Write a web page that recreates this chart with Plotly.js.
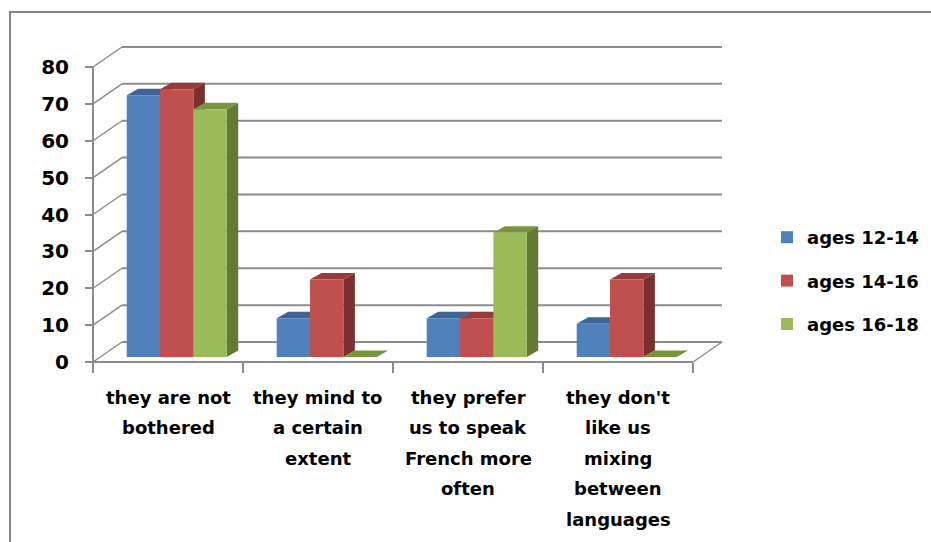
<!DOCTYPE html>
<html>
<head>
<meta charset="utf-8">
<script src="https://cdn.plot.ly/plotly-3.0.1.min.js"></script>
<style>
  html, body { margin: 0; padding: 0; background: #ffffff; overflow: hidden; }
  #frame { position: absolute; left: 9px; top: 11px; width: 1000px; height: 1000px;
           border: 2px solid #868686; box-sizing: border-box; }
  #chart { position: absolute; left: 0; top: 0; width: 931px; height: 542px; }
</style>
</head>
<body>
<div id="frame"></div>
<div id="chart"></div>
<script>
// Survey answers per age band (percent of respondents)
const categories = [
  "they are not\nbothered",
  "they mind to\na certain\nextent",
  "they prefer\nus to speak\nFrench more\noften",
  "they don't\nlike us\nmixing\nbetween\nlanguages"
];
const seriesNames = ["ages 12-14", "ages 14-16", "ages 16-18"];
const ages12to14 = [71, 10.5, 10.5, 9];
const ages14to16 = [72.6, 21, 10.5, 21];
const ages16to18 = [67.2, 0, 33.7, 0];
const yTickValues = [0, 10, 20, 30, 40, 50, 60, 70, 80];

const seriesValues = [ages12to14, ages14to16, ages16to18];
const frontColors = ["#4F81BD", "#C0504D", "#9BBB59"];
const topColors   = ["#3D6596", "#963B39", "#78943E"];
const sideColors  = ["#30507A", "#7B302E", "#627A33"];
const GRID = "#8C8C8C";
const FONT = { family: "DejaVu Sans, Verdana, sans-serif", size: 18, color: "#000000", weight: "bold" };
const TICK_FONT = Object.assign({}, FONT, { size: 20 });

// Pixel scale of the front plane and the oblique depth offsets (converted to axis units)
const PX_X = 150, PX_Y = 3.6875;
const ux = px => px / PX_X;
const uy = px => px / PX_Y;
const WALL  = { dx: ux(29),   dy: uy(20) };   // front plane -> back wall
const PLANE = { dx: ux(8.7),  dy: uy(5) };    // front plane -> bar front faces
const DEPTH = { dx: ux(11.5), dy: uy(6.5) };  // thickness of each bar
const BW = ux(100 / 3);                        // bar width

const nCat = categories.length;
const xFrontL = -0.5, xFrontR = nCat - 0.5;
const yTop = Math.max(...yTickValues);

const shapes = [];
const line = (x0, y0, x1, y1, w) => ({
  type: "line", xref: "x", yref: "y", layer: "below",
  x0, y0, x1, y1, line: { color: GRID, width: w }
});
const poly = (pts, color) => ({
  type: "path", xref: "x", yref: "y", layer: "below",
  path: "M" + pts.map(p => p[0] + "," + p[1]).join("L") + "Z",
  fillcolor: color, line: { width: 0 }
});

// Back wall gridlines and the side-wall diagonals joining them to the value axis
yTickValues.forEach(v => {
  shapes.push(line(xFrontL + WALL.dx, v + WALL.dy, xFrontR + WALL.dx, v + WALL.dy, 2));
  shapes.push(line(xFrontL, v, xFrontL + WALL.dx, v + WALL.dy, 1.5));
});
// Floor edges and the front value axis
shapes.push(line(xFrontL, 0, xFrontR, 0, 2));
shapes.push(line(xFrontR, 0, xFrontR + WALL.dx, WALL.dy, 1.5));
shapes.push(line(xFrontL, 0, xFrontL, yTop, 2));

// Top and right-hand faces of every bar
seriesValues.forEach((vals, s) => {
  vals.forEach((v, i) => {
    const xl = i + PLANE.dx + (s - 1.5) * BW;
    const xr = xl + BW;
    const yb = PLANE.dy;
    const yt = PLANE.dy + v;
    if (v > 0) {
      shapes.push(poly([[xr, yb], [xr, yt], [xr + DEPTH.dx, yt + DEPTH.dy], [xr + DEPTH.dx, yb + DEPTH.dy]], sideColors[s]));
    }
    shapes.push(poly([[xl, yt], [xr, yt], [xr + DEPTH.dx, yt + DEPTH.dy], [xl + DEPTH.dx, yt + DEPTH.dy]], topColors[s]));
  });
});

// Front faces of the bars
const traces = seriesValues.map((vals, s) => ({
  type: "bar",
  name: seriesNames[s],
  legendgroup: seriesNames[s],
  x: categories.map((_, i) => i + PLANE.dx),
  y: vals,
  base: PLANE.dy,
  offset: (s - 1.5) * BW,
  width: BW,
  marker: { color: frontColors[s], line: { width: 0 } },
  hoverinfo: "skip"
}));

// Category labels, one annotation per line under each group
const annotations = [];
categories.forEach((label, i) => {
  label.split("\n").forEach((text, k) => {
    annotations.push({
      xref: "x", yref: "y", x: i, y: 0,
      xanchor: "center", yanchor: "middle",
      yshift: -35 - k * 30.5,
      text: text, showarrow: false, font: FONT
    });
  });
});

// Plot area: left 91px, right 735px, top 40px, bottom 364px
const W = 931, H = 542;
const L = 91, R = 735, T = 40, B = 364;
const xMin = xFrontL - ux(2);
const yMin = -uy(2);

const layout = {
  width: W, height: H,
  margin: { l: L, r: W - R, t: T, b: H - B, pad: 0 },
  paper_bgcolor: "rgba(0,0,0,0)",
  plot_bgcolor: "rgba(0,0,0,0)",
  barmode: "overlay",
  hovermode: false,
  showlegend: true,
  xaxis: {
    range: [xMin, xMin + ux(R - L)],
    showgrid: false, zeroline: false, showline: false,
    tickmode: "array",
    tickvals: categories.map((_, i) => i - 0.5).concat([xFrontR]),
    ticks: "outside", ticklen: 10, tickwidth: 2, tickcolor: GRID,
    showticklabels: false,
    anchor: "free", position: 2 / (B - T)
  },
  yaxis: {
    range: [yMin, yMin + uy(B - T)],
    showgrid: false, zeroline: false, showline: false,
    tickmode: "array", tickvals: yTickValues,
    ticks: "outside", ticklen: 8, tickwidth: 2, tickcolor: GRID,
    tickfont: TICK_FONT, ticklabelstandoff: 12,
    anchor: "free", position: 2 / (R - L)
  },
  legend: {
    xref: "container", yref: "container",
    x: 767 / W, xanchor: "left",
    y: 1 - 281 / H, yanchor: "middle",
    font: FONT, traceorder: "grouped", tracegroupgap: 17,
    bgcolor: "rgba(0,0,0,0)", borderwidth: 0
  },
  shapes: shapes,
  annotations: annotations
};

Plotly.newPlot("chart", traces, layout, { staticPlot: true, displayModeBar: false });
</script>
</body>
</html>
